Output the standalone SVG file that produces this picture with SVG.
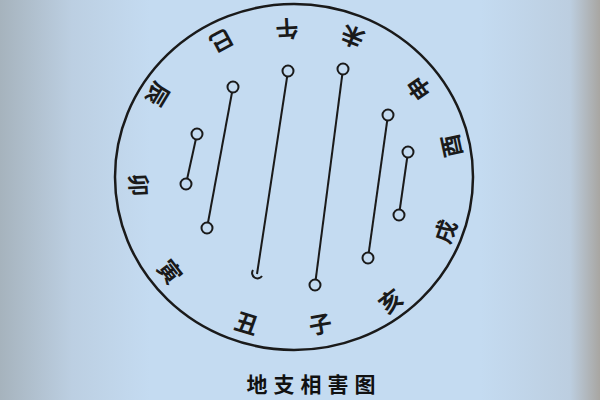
<svg xmlns="http://www.w3.org/2000/svg" width="600" height="400" viewBox="0 0 600 400">
<defs>
<linearGradient id="bg" x1="0" y1="0" x2="1" y2="0">
<stop offset="0" stop-color="#a6b3bd"/>
<stop offset="0.12" stop-color="#bccfe2"/>
<stop offset="0.25" stop-color="#c4dbf1"/>
<stop offset="0.8" stop-color="#c4dbf1"/>
<stop offset="0.95" stop-color="#bccee0"/>
<stop offset="1" stop-color="#a8a6a2"/>
</linearGradient>
<style>
.br{font-family:"Noto Sans CJK SC","Noto Sans CJK JP",sans-serif;font-size:23px;font-weight:bold;fill:#1a1a1a;text-anchor:middle;dominant-baseline:central}
.ln{stroke:#1a1a1a;stroke-width:2;fill:none}
.dot{stroke:#1a1a1a;stroke-width:2;fill:#c4dbf1}
</style>
</defs>
<rect width="600" height="400" fill="url(#bg)"/>
<ellipse cx="294" cy="177" rx="179" ry="173" fill="none" stroke="#1a1a1a" stroke-width="2.5"/>
<g id="labels">
<g id="wu"><text class="br" transform="translate(287,30) rotate(177)">午</text></g>
<g id="si"><text class="br" transform="translate(222,42) rotate(152)">巳</text></g>
<g id="wei"><text class="br" transform="translate(352,38) rotate(202)">未</text></g>
<g id="shen"><text class="br" transform="translate(418,89) rotate(235)">申</text></g>
<g id="you"><text class="br" transform="translate(450,146) rotate(258)">酉</text></g>
<g id="xu"><text class="br" transform="translate(444,231) rotate(-70)">戌</text></g>
<g id="hai"><text class="br" transform="translate(390,300) rotate(-38)">亥</text></g>
<g id="zi"><text class="br" transform="translate(320,323) rotate(-10)">子</text></g>
<g id="chou"><text class="br" transform="translate(247,322) rotate(17)">丑</text></g>
<g id="yin"><text class="br" transform="translate(171,271) rotate(52)">寅</text></g>
<g id="mao"><text class="br" transform="translate(140,185) rotate(87)">卯</text></g>
<g id="chen"><text class="br" transform="translate(159,95) rotate(121)">辰</text></g>
</g>
<g id="connectors">
<line class="ln" x1="197" y1="134" x2="186" y2="184"/>
<line class="ln" x1="233" y1="87" x2="207" y2="228"/>
<line class="ln" x1="288" y1="71" x2="257" y2="274"/>
<line class="ln" x1="343" y1="69" x2="315" y2="285"/>
<line class="ln" x1="388" y1="115" x2="368" y2="258"/>
<line class="ln" x1="408" y1="152" x2="399" y2="215"/>
</g>
<g id="ends">
<circle class="dot" cx="197" cy="134" r="5.5"/>
<circle class="dot" cx="186" cy="184" r="5.5"/>
<circle class="dot" cx="233" cy="87" r="5.5"/>
<circle class="dot" cx="207" cy="228" r="5.5"/>
<circle class="dot" cx="288" cy="71" r="5.5"/>
<path class="ln" d="M253,270 A5,5 0 1 0 262,276"/>
<circle class="dot" cx="343" cy="69" r="5.5"/>
<circle class="dot" cx="315" cy="285" r="5.5"/>
<circle class="dot" cx="388" cy="115" r="5.5"/>
<circle class="dot" cx="368" cy="258" r="5.5"/>
<circle class="dot" cx="408" cy="152" r="5.5"/>
<circle class="dot" cx="399" cy="215" r="5.5"/>
</g>
<g id="title"><text x="314" y="392" font-family="'Noto Sans CJK SC',sans-serif" font-size="21" font-weight="bold" fill="#111" text-anchor="middle" letter-spacing="6">地支相害图</text></g>
</svg>
